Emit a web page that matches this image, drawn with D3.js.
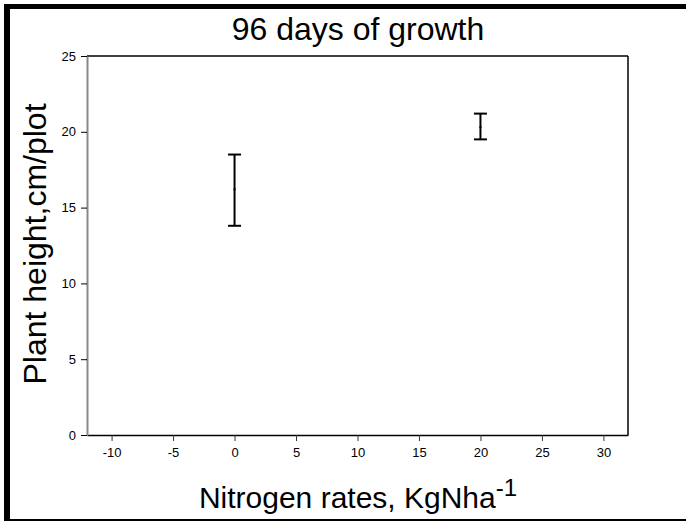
<!DOCTYPE html>
<html><head><meta charset="utf-8">
<script src="https://cdn.jsdelivr.net/npm/d3@7"></script>
<style>html,body{margin:0;padding:0;background:#fff}svg{display:block}</style>
</head><body>
<svg id="c" width="686" height="521"></svg>
<script>
const rates = [0, 20];
const meanHeight = [16.2, 20.3];
const lowerHeight = [13.8, 19.5];
const upperHeight = [18.5, 21.2];
const xTicks = [-10, -5, 0, 5, 10, 15, 20, 25, 30];
const yTicks = [0, 5, 10, 15, 20, 25];

const svg = d3.select("#c");
const font = "Liberation Sans, Arial, sans-serif";
const W = 686, H = 521;
const m = {left: 87, right: 628, top: 56, bottom: 435};

// outer frame
svg.append("rect").attr("x", 4).attr("y", 4).attr("width", W).attr("height", 5).attr("fill", "#000");
svg.append("rect").attr("x", 4).attr("y", 4).attr("width", 6).attr("height", H).attr("fill", "#000");
svg.append("rect").attr("x", 4).attr("y", 519).attr("width", W).attr("height", 2).attr("fill", "#000");

const x = d3.scaleLinear().domain([-12, 32]).range([m.left, m.right]);
const y = d3.scaleLinear().domain([0, 25]).range([m.bottom, m.top]);

// plot box
svg.append("line").attr("x1", m.left).attr("x2", m.right).attr("y1", m.top).attr("y2", m.top).attr("stroke", "#000").attr("stroke-width", 1.5);
svg.append("line").attr("x1", m.right).attr("x2", m.right).attr("y1", m.top).attr("y2", m.bottom).attr("stroke", "#000").attr("stroke-width", 1.5);

const xAxis = svg.append("g").attr("transform", `translate(0,${m.bottom})`)
  .call(d3.axisBottom(x).tickValues(xTicks).tickSize(6).tickSizeOuter(0).tickPadding(7).tickFormat(d => String(d)));
xAxis.select(".domain").attr("stroke", "#000").attr("stroke-width", 1.5);
xAxis.selectAll(".tick line").attr("stroke", "#333");
xAxis.selectAll("text").attr("font-family", font).attr("font-size", 13).attr("fill", "#000");

const yAxis = svg.append("g").attr("transform", `translate(${m.left},0)`)
  .call(d3.axisLeft(y).tickValues(yTicks).tickSize(6).tickSizeOuter(0).tickPadding(5).tickFormat(d => String(d)));
yAxis.select(".domain").attr("stroke", "#888").attr("stroke-width", 2);
yAxis.selectAll(".tick line").attr("stroke", "#000");
yAxis.selectAll("text").attr("font-family", font).attr("font-size", 13).attr("fill", "#000");

// error bars
const g = svg.append("g").attr("stroke", "#000").attr("stroke-width", 2);
rates.forEach((r, i) => {
  g.append("line").attr("x1", x(r)).attr("x2", x(r)).attr("y1", y(lowerHeight[i])).attr("y2", y(upperHeight[i]));
  g.append("line").attr("x1", x(r) - 6.5).attr("x2", x(r) + 6.5).attr("y1", y(lowerHeight[i])).attr("y2", y(lowerHeight[i]));
  g.append("line").attr("x1", x(r) - 6.5).attr("x2", x(r) + 6.5).attr("y1", y(upperHeight[i])).attr("y2", y(upperHeight[i]));
  g.append("line").attr("x1", x(r) - 1).attr("x2", x(r) + 1).attr("y1", y(meanHeight[i])).attr("y2", y(meanHeight[i]));
});

// title
svg.append("text").attr("x", 358).attr("y", 40).attr("text-anchor", "middle")
  .attr("font-family", font).attr("font-size", 32)
  .text("96 days of growth");

// y label
svg.append("text").attr("transform", "translate(46,244) rotate(-90)").attr("text-anchor", "middle")
  .attr("font-family", font).attr("font-size", 32)
  .text("Plant height,cm/plot");

// x label
const xl = svg.append("text").attr("x", 358).attr("y", 508).attr("text-anchor", "middle")
  .attr("font-family", font).attr("font-size", 30);
xl.append("tspan").text("Nitrogen rates, KgNha");
xl.append("tspan").attr("dy", -12).attr("font-size", 24).text("-1");
</script>
</body></html>
